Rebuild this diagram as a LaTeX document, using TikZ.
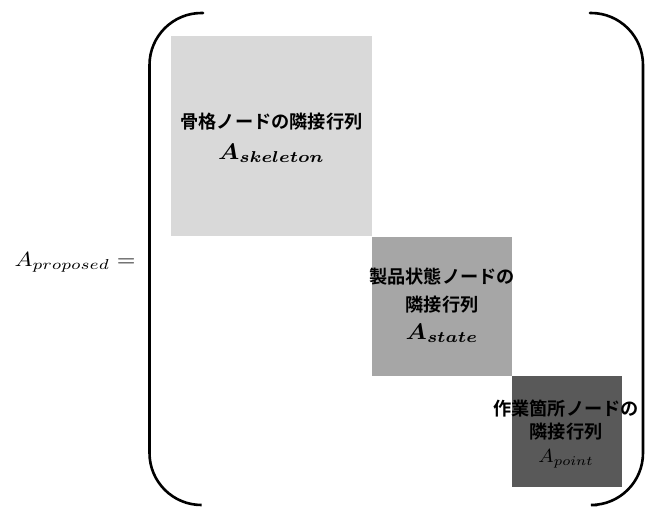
\documentclass[tikz,border=0pt]{standalone}
\usepackage{fontspec}
\usepackage{bm}
\newfontfamily\jpfont{Noto Sans CJK JP}[BoldFont={Noto Sans CJK JP Bold}]
\definecolor{boxA}{HTML}{D9D9D9}
\definecolor{boxB}{HTML}{A6A6A6}
\definecolor{boxC}{HTML}{595959}
\tikzset{
  jtext/.style={font=\jpfont\bfseries\fontsize{18.2}{21}\selectfont, inner sep=0pt},
  mtext/.style={inner sep=0pt},
  bracketline/.style={line width=2.6pt, line cap=round, rounded corners=52pt}
}
\begin{document}
\begin{tikzpicture}[x=1pt,y=-1pt]
\useasboundingbox (0,0) rectangle (650,506);
% blocks
\fill[boxA] (171,36) rectangle (372,236);
\fill[boxB] (372,237) rectangle (512,376);
\fill[boxC] (512,376) rectangle (622,487);
% brackets
\draw[bracketline] (203,13) -- (149.5,13) -- (149.5,505) -- (201,505);
\draw[bracketline] (590,13) -- (643,13) -- (643,505) -- (597,505);
% left label
\node[mtext] (lhs) at (75,262) {\scalebox{2.4}[2.05]{$A_{proposed}=$}};
% block 1
\node[mtext] (m1) at (271.5,153) {\scalebox{2.45}[2.25]{$\bm{A_{skeleton}}$}};
\node[jtext] (t1) at (271.5,122) {骨格ノードの隣接行列};
% block 2
\node[jtext] (t2a) at (442,277) {製品状態ノードの};
\node[jtext] (t2b) at (442,305) {隣接行列};
\node[mtext] (m2) at (442,333) {\scalebox{2.45}[2.25]{$\bm{A_{state}}$}};
% block 3
\node[jtext] (t3a) at (566,409) {作業箇所ノードの};
\node[jtext] (t3b) at (566,432) {隣接行列};
\node[mtext] (m3) at (566,459) {\scalebox{2.05}[1.9]{$A_{point}$}};
\end{tikzpicture}
\end{document}
